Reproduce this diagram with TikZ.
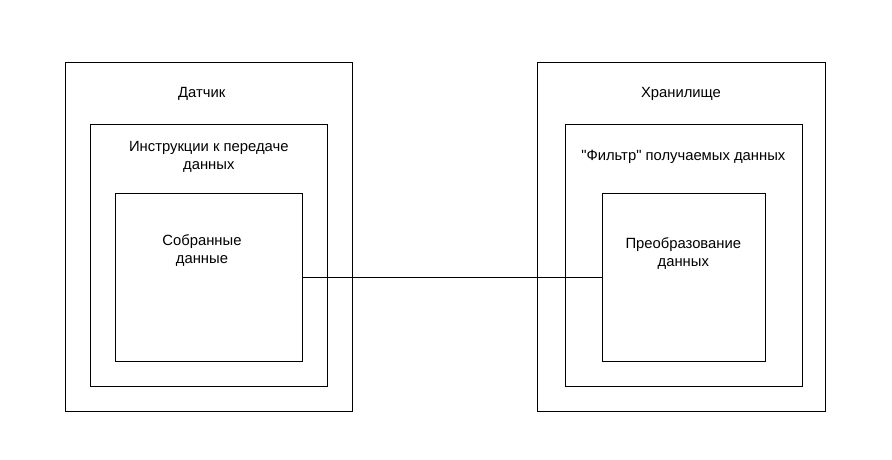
\documentclass[tikz,border=0pt]{standalone}
\usepackage{fontspec}
\setmainfont{Liberation Sans}[Ligatures=TeXOff]
\usetikzlibrary{positioning}

\begin{document}
\begin{tikzpicture}[ x=0.75pt, y=-0.75pt,
	box/.style 2 args={draw, line width=0.75pt, inner sep=0pt,
		minimum width=#1*0.75pt, minimum height=#2*0.75pt},
	lbl/.style={align=center, inner sep=0pt,
		font=\fontsize{11.1pt}{13.5pt}\selectfont} ]
	\useasboundingbox (0,0) rectangle (892,460);
	% sensor side
	\node[box={287}{349}] (dat) at (208.5,237) {};
	\node[box={237}{262}] (instr) at (208.75,255.25) {};
	\node[box={187}{168}] (sobr) at (208.75,277.25) {};
	% storage side
	\node[box={288}{349}] (khran) at (681,237) {};
	\node[box={237}{262}] (filtr) at (683.75,255.25) {};
	\node[box={163}{168}] (preobr) at (684,277.25) {};
	% labels
	\node[lbl] (ldat) at (201.7,93.7) {Датчик};
	\node[lbl] (linstr) at (208.8,156.7) {Инструкции к передаче\\данных};
	\node[lbl] (lsobr) at (202,250.5) {Собранные\\данные};
	\node[lbl] (lkhran) at (681,93.7) {Хранилище};
	\node[lbl] (lfiltr) at (683.3,156.7) {"Фильтр" получаемых данных};
	\node[lbl] (lpreobr) at (683.3,253.8) {Преобразование\\данных};
	\draw[line width=0.75pt] (sobr) -- (preobr);
\end{tikzpicture}
\end{document}
